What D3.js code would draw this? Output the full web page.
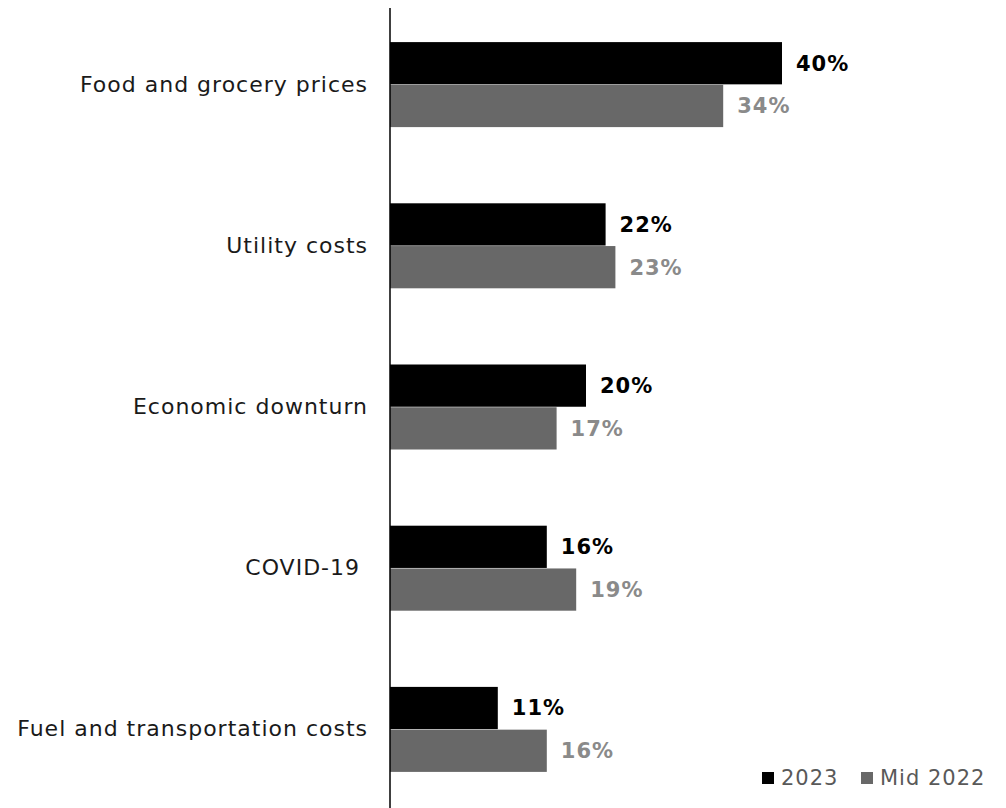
<!DOCTYPE html>
<html>
<head>
<meta charset="utf-8">
<script src="https://cdn.jsdelivr.net/npm/d3@7"></script>
<style>
  html, body { margin: 0; padding: 0; background: #fff; }
  svg { display: block; }
</style>
</head>
<body>
<svg id="chart" width="1006" height="808"></svg>
<script>
// Survey categories and share of respondents (%)
const categories = [
  "Food and grocery prices",
  "Utility costs",
  "Economic downturn",
  "COVID-19 ",
  "Fuel and transportation costs"
];
const values2023 = [40, 22, 20, 16, 11];
const valuesMid2022 = [34, 23, 17, 19, 16];
const seriesNames = ["2023", "Mid 2022"];

const colors = { "2023": "#000000", "Mid 2022": "#686868" };
const labelColors = { "2023": "#000000", "Mid 2022": "#8a8a8a" };
const font = "'DejaVu Sans', sans-serif";

const svg = d3.select("#chart");

const x = d3.scaleLinear().domain([0, 40]).range([390, 782]);
const y = d3.scaleBand().domain(categories).range([4, 810]);
const sub = d3.scaleBand().domain(seriesNames).range([0, 85]).paddingInner(0.012);

const rows = categories.map((c, i) => ({
  category: c,
  items: [
    { series: "2023", value: values2023[i] },
    { series: "Mid 2022", value: valuesMid2022[i] }
  ]
}));

const groups = svg.selectAll("g.group")
  .data(rows)
  .join("g")
  .attr("class", "group")
  .attr("transform", d => `translate(0,${y(d.category) + y.bandwidth() / 2 - 42.5})`);

groups.selectAll("rect")
  .data(d => d.items)
  .join("rect")
  .attr("x", x(0))
  .attr("y", d => sub(d.series))
  .attr("width", d => x(d.value) - x(0))
  .attr("height", sub.bandwidth())
  .attr("fill", d => colors[d.series]);

groups.selectAll("text.value")
  .data(d => d.items)
  .join("text")
  .attr("class", "value")
  .attr("x", d => x(d.value) + 14)
  .attr("y", d => sub(d.series) + sub.bandwidth() / 2)
  .attr("dy", "0.35em")
  .attr("font-family", font)
  .attr("font-weight", "bold")
  .attr("font-size", 21)
  .attr("letter-spacing", 1)
  .attr("fill", d => labelColors[d.series])
  .text(d => d.value + "%");

// Category axis on the left (keeps trailing spaces in labels)
const yAxis = d3.axisLeft(y).tickSize(0).tickPadding(22);
const axisG = svg.append("g")
  .attr("transform", `translate(${x(0)},0)`)
  .call(yAxis);
axisG.select(".domain").remove();
axisG.selectAll("text")
  .attr("font-family", font)
  .attr("font-size", 22)
  .attr("letter-spacing", 1)
  .style("white-space", "pre")
  .attr("fill", "#1a1a1a");

svg.append("line")
  .attr("x1", x(0)).attr("x2", x(0))
  .attr("y1", 8).attr("y2", 808)
  .attr("stroke", "#000")
  .attr("stroke-width", 1.5);

// Legend
const legend = svg.append("g").attr("transform", "translate(762,778)");
const legendX = [0, 99];
seriesNames.forEach((s, i) => {
  const g = legend.append("g").attr("transform", `translate(${legendX[i]},0)`);
  g.append("rect").attr("x", 0).attr("y", -6).attr("width", 12).attr("height", 12).attr("fill", colors[s]);
  g.append("text")
    .attr("x", 19).attr("y", 0).attr("dy", "0.35em")
    .attr("font-family", font)
    .attr("font-size", 21)
    .attr("letter-spacing", 1)
    .attr("fill", "#595959")
    .text(s);
});
</script>
</body>
</html>
